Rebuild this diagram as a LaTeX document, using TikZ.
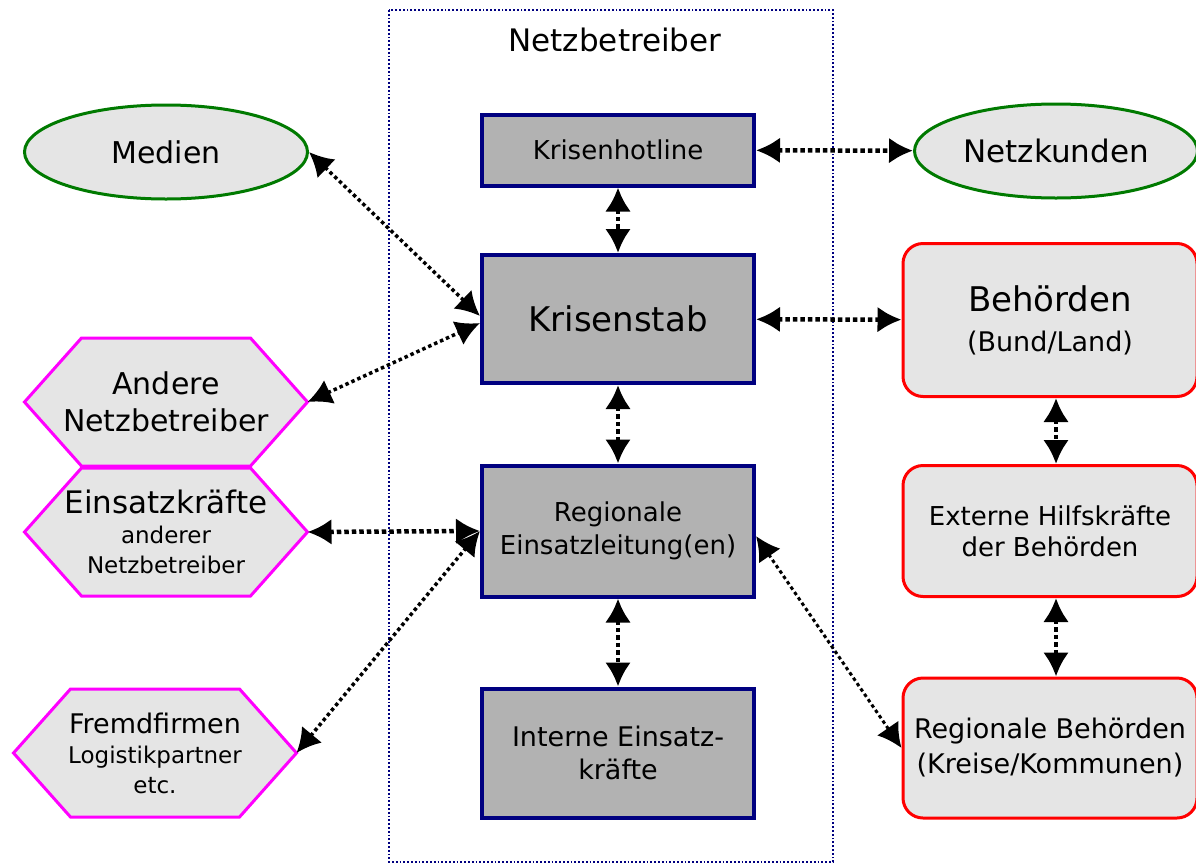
\documentclass[tikz,border=0pt]{standalone}
\usepackage{fontspec}
\setmainfont{DejaVu Sans}
\usetikzlibrary{arrows.meta,shapes.geometric,backgrounds}
\definecolor{navy}{HTML}{000080}
\definecolor{kundgreen}{HTML}{007A00}
\definecolor{hexpink}{HTML}{FF00FF}
\definecolor{amtrot}{HTML}{FF0000}
\newcommand{\gr}[1]{\fontsize{#1}{#1}\selectfont}
\begin{document}
\begin{tikzpicture}[x=1pt,y=-1pt,>={Latex[length=24pt 0,width=26pt 0]},
    kern/.style={draw=navy,line width=4pt,fill=black!30,minimum width=272pt,align=center,inner sep=0pt},
    aussen/.style={fill=black!10,align=center,inner sep=0pt},
    oval/.style={aussen,ellipse,draw=kundgreen,line width=3pt,minimum width=283pt,minimum height=94pt},
    amt/.style={aussen,rectangle,rounded corners=20pt,draw=amtrot,line width=3pt,minimum width=294pt,minimum height=131pt},
    hexa/.style={align=center,inner sep=0pt,outer sep=0pt,minimum width=283pt,minimum height=128pt},
    hexrand/.style={draw=hexpink,fill=black!10,line width=3pt},
    link/.style={<->,line width=4.5pt,dash pattern=on 4.5pt off 3pt},
    schraeg/.style={<->,line width=3.5pt,dash pattern=on 3.5pt off 3pt}]
    \useasboundingbox (0,0) rectangle (1196,865);
    % Netzbetreiber
    \draw[navy,line width=1.8pt,dash pattern=on 1.8pt off 2pt] (389,10) rectangle (833,862);
    \node[font=\gr{31}] (titel) at (615,40) {Netzbetreiber};
    \node[kern,minimum height=71pt,font=\gr{26}] (hotline) at (618,150) {Krisenhotline};
    \node[kern,minimum height=128pt,font=\gr{34}] (stab) at (618,319) {Krisenstab};
    \node[kern,minimum height=131pt,font=\fontsize{26}{33}\selectfont] (regio) at (618,531) {Regionale\\Einsatzleitung(en)};
    \node[kern,minimum height=129pt,font=\fontsize{27}{33}\selectfont] (intern) at (618,753) {Interne Einsatz-\\kräfte};
    % links
    \node[oval,font=\gr{30}] (medien) at (166,152) {Medien};
    \node[hexa,font=\fontsize{30}{37}\selectfont] (andere) at (166,402) {Andere\\Netzbetreiber};
    \node[hexa,font=\fontsize{31}{30}\selectfont] (einsatz) at (166,532) {Einsatzkräfte\\\gr{23}anderer\\\gr{23}Netzbetreiber};
    \node[hexa,font=\fontsize{27}{30}\selectfont] (fremd) at (155,753) {Fremdfirmen\\\gr{23}Logistikpartner\\\gr{23}etc.};
    \begin{scope}[on background layer]
      \foreach \h in {andere,einsatz,fremd}
        \draw[hexrand] (\h.west) -- ([xshift=57pt]\h.north west) -- ([xshift=-57pt]\h.north east)
          -- (\h.east) -- ([xshift=-57pt]\h.south east) -- ([xshift=57pt]\h.south west) -- cycle;
    \end{scope}
    % rechts
    \node[oval,font=\gr{31}] (kunden) at (1056,151) {Netzkunden};
    \node[amt,minimum height=153pt,font=\fontsize{34}{40}\selectfont] (bund) at (1050,320) {Behörden\\\gr{27}(Bund/Land)};
    \node[amt,font=\fontsize{26}{31}\selectfont] (hilfe) at (1050,531) {Externe Hilfskräfte\\der Behörden};
    \node[amt,minimum height=140pt,font=\fontsize{27}{35}\selectfont] (kreise) at (1050,748) {Regionale Behörden\\(Kreise/Kommunen)};
    % Verbindungen
    \draw[link] (hotline) -- (kunden);
    \draw[link] (hotline) -- (stab);
    \draw[link] (stab) -- (bund);
    \draw[link] (stab) -- (regio);
    \draw[link] (regio) -- (intern);
    \draw[link] (bund.south -| 1056,0) -- (hilfe.north -| 1056,0);
    \draw[link] (hilfe.south -| 1056,0) -- (kreise.north -| 1056,0);
    \draw[link] (einsatz.east) -- (regio.west);
    \draw[schraeg] (medien.east) -- ([yshift=3pt]stab.west);
    \draw[schraeg] (andere.east) -- ([yshift=-4pt]stab.west);
    \draw[schraeg] (fremd.east) -- (regio.west);
    \draw[schraeg,line width=3pt] ([yshift=-5pt]regio.east) -- (kreise.west);
\end{tikzpicture}
\end{document}
